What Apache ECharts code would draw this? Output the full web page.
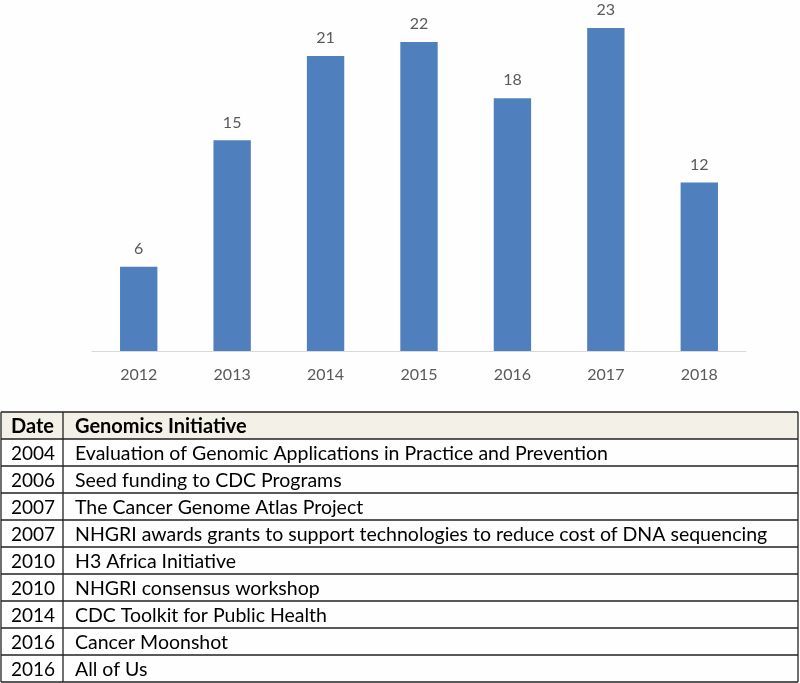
<!DOCTYPE html>
<html>
<head>
<meta charset="utf-8">
<script src="https://cdn.jsdelivr.net/npm/echarts@6/dist/echarts.min.js"></script>
<style>
html,body{margin:0;padding:0;background:#fefefe;}
#main{width:800px;height:683px;}
</style>
</head>
<body>
<div id="main"></div>
<script>
// Bar chart data
const years = ['2012','2013','2014','2015','2016','2017','2018'];
const counts = [6, 15, 21, 22, 18, 23, 12];

// Table data
const tableHeader = ['Date', 'Genomics Initiative'];
const tableDates = ['2004','2006','2007','2007','2010','2010','2014','2016','2016'];
const tableInitiatives = [
  'Evaluation of Genomic Applications in Practice and Prevention',
  'Seed funding to CDC Programs',
  'The Cancer Genome Atlas Project',
  'NHGRI awards grants to support technologies to reduce cost of DNA sequencing',
  'H3 Africa Initiative',
  'NHGRI consensus workshop',
  'CDC Toolkit for Public Health',
  'Cancer Moonshot',
  'All of Us'
];

const FONT = 'Lato, "Open Sans", sans-serif';

// Table layout
const tX0 = 1, tX1 = 798, tSep = 63, tTop = 412, headH = 27, rowH = 27;
const graphics = [];
graphics.push({type:'rect', shape:{x:tX0, y:tTop, width:tX1-tX0, height:headH}, style:{fill:'#f3f0e7'}});
for (let i = 0; i <= tableDates.length + 1; i++) {
  const y = i === 0 ? tTop : tTop + headH + (i-1)*rowH;
  graphics.push({type:'line', shape:{x1:tX0, y1:y, x2:tX1, y2:y}, style:{stroke:'#222', lineWidth:1.3}});
}
const tBottom = tTop + headH + tableDates.length*rowH;
[tX0, tSep, tX1].forEach(x => {
  graphics.push({type:'line', shape:{x1:x, y1:tTop, x2:x, y2:tBottom}, style:{stroke:'#222', lineWidth:1.3}});
});
graphics.push({type:'text', x:11, y:tTop+headH/2+1, style:{text:tableHeader[0], font:'bold 20px ' + FONT, fill:'#000', textVerticalAlign:'middle'}});
graphics.push({type:'text', x:75, y:tTop+headH/2+1, style:{text:tableHeader[1], font:'bold 20px ' + FONT, fill:'#000', textVerticalAlign:'middle'}});
tableDates.forEach((d, i) => {
  const cy = tTop + headH + i*rowH + rowH/2 + 1;
  graphics.push({type:'text', x:11, y:cy, style:{text:d, font:'19px ' + FONT, fill:'#000', textVerticalAlign:'middle'}});
  graphics.push({type:'text', x:75, y:cy, style:{text:tableInitiatives[i], font:'19.5px ' + FONT, fill:'#000', textVerticalAlign:'middle'}});
});

const chart = echarts.init(document.getElementById('main'));
chart.setOption({
  animation: false,
  backgroundColor: '#fefefe',
  grid: {left: 92, right: 54, top: 28, bottom: 332},
  xAxis: {
    type: 'category',
    data: years,
    axisLine: {lineStyle: {color: '#d9d9d9', width: 1}},
    axisTick: {show: false},
    axisLabel: {color: '#595959', fontSize: 16, fontFamily: FONT, margin: 16}
  },
  yAxis: {
    type: 'value', min: 0, max: 23,
    show: false,
    splitLine: {show: false}
  },
  series: [{
    type: 'bar',
    data: counts,
    barWidth: '40%',
    itemStyle: {color: '#4f80bd'},
    label: {show: true, position: 'top', distance: 10, color: '#595959', fontSize: 16, fontFamily: FONT}
  }],
  graphic: graphics
});
</script>
</body>
</html>
